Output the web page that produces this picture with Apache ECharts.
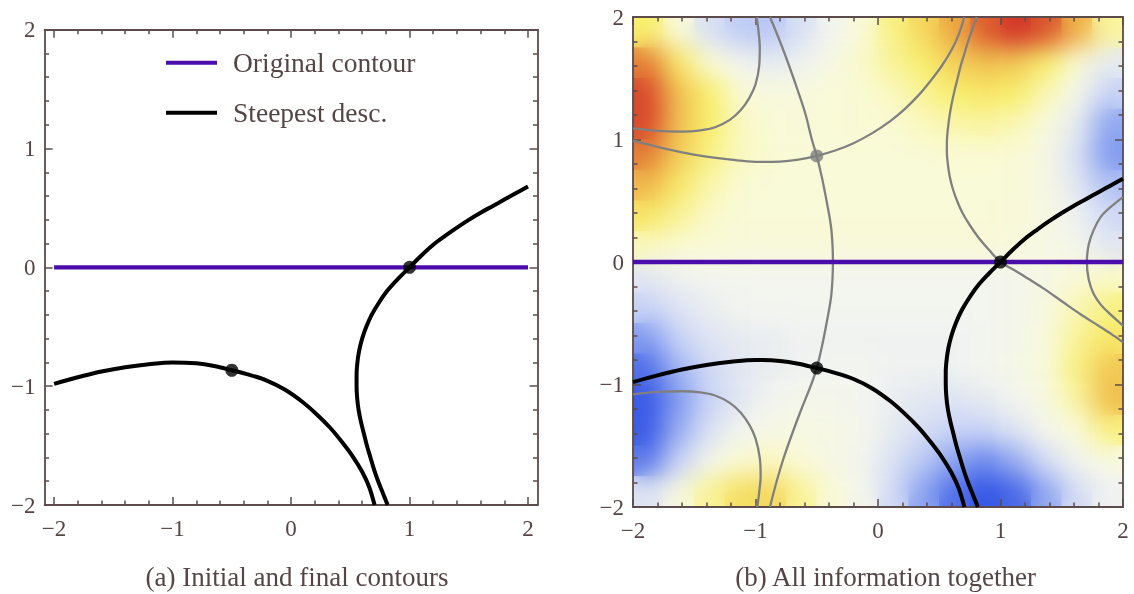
<!DOCTYPE html>
<html><head><meta charset="utf-8">
<script src="https://cdn.jsdelivr.net/npm/echarts@6/dist/echarts.min.js"></script>
<style>
html,body{margin:0;padding:0;background:#fff;}
#stage{position:relative;width:1134px;height:594px;overflow:hidden;background:#fff;}
#heatBase,#main{position:absolute;left:0;top:0;width:1134px;height:594px;}
#blurClip{position:absolute;left:633px;top:17px;width:490px;height:490px;overflow:hidden;}
#heatBlur{position:absolute;left:-633px;top:-17px;width:1134px;height:594px;filter:blur(12px);}
</style></head><body>
<div id="stage">
<div id="heatBase"></div>
<div id="blurClip"><div id="heatBlur"></div></div>
<div id="main"></div>
</div>
<script>
// ---------- data ----------
const majorTicks = [-2, -1, 0, 1, 2];
const minorTicks = [-1.8,-1.6,-1.4,-1.2,-0.8,-0.6,-0.4,-0.2,0.2,0.4,0.6,0.8,1.2,1.4,1.6,1.8];

const originalContour = [[-2, 0], [2, 0]];
const steepest1 = [[-2.0,-0.98],[-1.8,-0.925],[-1.6,-0.877],[-1.4,-0.84],[-1.2,-0.815],[-1.0,-0.80],[-0.8,-0.808],[-0.65,-0.83],[-0.5,-0.866],[-0.35,-0.905],[-0.2,-0.955],[-0.05,-1.03],[0.1,-1.135],[0.22,-1.24],[0.33,-1.35],[0.43,-1.47],[0.52,-1.59],[0.6,-1.72],[0.66,-1.85],[0.705,-2.0]];
const steepest2 = [[0.815,-2.0],[0.775,-1.9],[0.735,-1.8],[0.70,-1.7],[0.67,-1.6],[0.64,-1.5],[0.615,-1.4],[0.59,-1.3],[0.57,-1.2],[0.558,-1.1],[0.553,-1.0],[0.553,-0.9],[0.56,-0.8],[0.575,-0.7],[0.60,-0.6],[0.635,-0.5],[0.68,-0.4],[0.74,-0.3],[0.81,-0.2],[0.9,-0.1],[1.0,0.0],[1.1,0.1],[1.2,0.19],[1.3,0.265],[1.4,0.335],[1.5,0.40],[1.6,0.46],[1.7,0.515],[1.8,0.57],[1.9,0.625],[2.0,0.68]];
const saddlesUsed = [[-0.5,-0.866],[1,0]];
const saddleOther = [[-0.5,0.866]];

const grey1 = [[-0.882,2.0],[-0.80,1.8],[-0.725,1.6],[-0.655,1.4],[-0.59,1.2],[-0.54,1.0],[-0.5,0.866],[-0.46,0.7],[-0.42,0.5],[-0.385,0.3],[-0.372,0.15],[-0.368,0],[-0.372,-0.15],[-0.385,-0.3],[-0.42,-0.5],[-0.46,-0.7],[-0.5,-0.866],[-0.545,-1.0],[-0.625,-1.2],[-0.70,-1.4],[-0.77,-1.6],[-0.83,-1.8],[-0.882,-2.0]];
const grey2Top = [[-2.0,1.09],[-1.8,1.07],[-1.6,1.065],[-1.45,1.075],[-1.33,1.10],[-1.21,1.16],[-1.12,1.24],[-1.05,1.34],[-1.0,1.45],[-0.97,1.6],[-0.965,1.75],[-0.975,1.88],[-0.99,2.0]];
const grey2Bottom = [[-2.0,-1.08],[-1.8,-1.06],[-1.6,-1.055],[-1.45,-1.065],[-1.33,-1.09],[-1.21,-1.15],[-1.12,-1.23],[-1.05,-1.33],[-1.0,-1.44],[-0.965,-1.6],[-0.958,-1.75],[-0.97,-1.88],[-0.985,-2.0]];
const grey3 = [[-2.0,0.99],[-1.8,0.94],[-1.6,0.895],[-1.4,0.86],[-1.2,0.835],[-1.0,0.818],[-0.8,0.82],[-0.65,0.835],[-0.5,0.866],[-0.35,0.91],[-0.2,0.97],[-0.05,1.05],[0.1,1.15],[0.22,1.25],[0.33,1.36],[0.43,1.48],[0.52,1.6],[0.6,1.73],[0.66,1.86],[0.705,2.0]];
const grey4 = [[0.806,2.0],[0.77,1.9],[0.735,1.8],[0.705,1.7],[0.675,1.6],[0.65,1.5],[0.625,1.4],[0.603,1.3],[0.585,1.2],[0.572,1.1],[0.563,1.0],[0.562,0.9],[0.57,0.8],[0.585,0.7],[0.61,0.6],[0.645,0.5],[0.69,0.4],[0.75,0.3],[0.82,0.2],[0.905,0.1],[1.0,0],[1.1,-0.06],[1.2,-0.12],[1.35,-0.215],[1.5,-0.32],[1.65,-0.425],[1.8,-0.52],[1.9,-0.585],[2.0,-0.655]];
const grey5 = [[2.0,0.53],[1.9,0.45],[1.82,0.37],[1.76,0.26],[1.72,0.14],[1.705,0],[1.72,-0.14],[1.76,-0.26],[1.82,-0.35],[1.9,-0.43],[2.0,-0.52]];

// background field, cell centres (rows listed from top y=1.875 to bottom y=-1.875)
const heatX = [-1.875,-1.625,-1.375,-1.125,-0.875,-0.625,-0.375,-0.125,0.125,0.375,0.625,0.875,1.125,1.375,1.625,1.875];
const heatY = [-1.875,-1.625,-1.375,-1.125,-0.875,-0.625,-0.375,-0.125,0.125,0.375,0.625,0.875,1.125,1.375,1.625,1.875];
const heatRows = [
  [2.0, 0.8, -0.6, -1.1, -1.2, -0.6, 0.0, 0.9, 1.8, 2.3, 2.9, 3.6, 4.0, 3.7, 2.8, 1.5],
  [3.3, 2.1, 1.0, 0.0, -0.3, -0.1, 0.5, 1.1, 1.6, 2.0, 2.4, 2.6, 2.5, 2.0, 1.0, -0.3],
  [3.8, 2.6, 2.0, 1.0, 0.7, 0.7, 0.9, 1.0, 1.2, 1.6, 2.0, 2.1, 2.0, 1.3, 0.2, -1.0],
  [3.8, 2.6, 2.0, 1.2, 0.9, 0.8, 0.9, 1.0, 1.0, 1.2, 1.4, 1.5, 1.3, 0.7, -0.3, -1.7],
  [3.3, 2.4, 1.8, 1.2, 1.0, 0.9, 0.9, 0.9, 0.9, 0.9, 1.0, 1.0, 1.0, 0.4, -0.6, -1.9],
  [2.7, 2.1, 1.4, 1.0, 0.9, 0.9, 0.9, 0.9, 0.9, 0.9, 0.9, 0.9, 0.9, 0.4, -0.4, -1.3],
  [2.1, 1.6, 1.1, 0.9, 0.9, 0.9, 0.9, 0.9, 0.9, 0.9, 0.9, 0.9, 0.8, 0.5, -0.1, -0.8],
  [1.2, 1.0, 0.9, 0.8, 0.8, 0.8, 0.8, 0.8, 0.8, 0.8, 0.8, 0.8, 0.7, 0.5, 0.1, -0.4],
  [-0.4, -0.1, 0.0, 0.0, 0.0, 0.0, 0.0, 0.0, 0.0, 0.0, 0.0, 0.0, 0.1, 0.4, 0.8, 1.1],
  [-1.0, -0.5, -0.2, 0.0, 0.0, 0.0, 0.0, 0.0, 0.0, 0.0, 0.0, 0.0, 0.2, 0.6, 1.3, 1.8],
  [-1.9, -1.0, -0.5, -0.3, -0.2, -0.1, -0.1, -0.1, -0.1, -0.1, -0.1, 0.0, 0.2, 0.7, 1.6, 2.1],
  [-2.6, -1.5, -0.8, -0.4, -0.2, -0.1, 0.0, 0.0, -0.1, -0.1, -0.1, 0.0, 0.3, 0.8, 1.8, 2.5],
  [-2.9, -1.9, -1.0, -0.4, 0.0, 0.2, 0.1, 0.0, -0.2, -0.4, -0.5, -0.3, 0.0, 0.6, 1.5, 2.6],
  [-2.9, -1.6, -0.6, 0.0, 0.4, 0.5, 0.4, 0.1, -0.3, -0.7, -1.0, -1.0, -0.5, 0.1, 0.8, 1.8],
  [-2.4, -1.0, 0.2, 1.0, 1.2, 0.8, 0.4, 0.0, -0.6, -1.2, -1.8, -2.2, -1.6, -0.7, 0.0, 0.5],
  [-0.5, 0.6, 1.6, 2.2, 2.3, 1.6, 0.8, 0.1, -0.8, -1.8, -2.6, -3.0, -2.7, -1.7, -0.7, -0.1]
];
const captions = ['(a) Initial and final contours', '(b) All information together'];
const legendNames = ['Original contour', 'Steepest desc.'];

// ---------- styling ----------
const FONT = "'Liberation Serif', 'DejaVu Serif', serif";
const TEXT = '#554545';
const FRAME = '#5c4b4b';
const PURPLE = '#4b0cad';
const GREY = '#808080';
const HEAT_COLORS = ['#3556e5','#7b96ee','#c8d3f6','#f3f5ef','#fafad4','#f8ef6c','#eba03d','#d33629'];

// ---------- heat layers ----------
const heatData = [];
heatRows.forEach((row, r) => {
  row.forEach((v, c) => heatData.push([c, heatY.length - 1 - r, v]));
});
function heatOption() {
  return {
    animation: false,
    grid: { left: 633, top: 17, width: 490, height: 490 },
    xAxis: { type: 'category', data: heatX.map(String), show: false },
    yAxis: { type: 'category', data: heatY.map(String), show: false },
    visualMap: { show: false, min: -3, max: 4, dimension: 2, inRange: { color: HEAT_COLORS } },
    series: [{ type: 'heatmap', data: heatData, itemStyle: { borderWidth: 0 }, emphasis: { disabled: true } }]
  };
}
echarts.init(document.getElementById('heatBase')).setOption(heatOption());
echarts.init(document.getElementById('heatBlur')).setOption(heatOption());

// ---------- main chart ----------
function fmt(v) { return v < 0 ? '\u2212' + (-v) : String(v); }
function axisSet(dim, grid, min, max) {
  const posA = dim === 'x' ? 'bottom' : 'left';
  const posB = dim === 'x' ? 'top' : 'right';
  const base = { type: 'value', gridIndex: grid, min: min, max: max, splitLine: { show: false }, minorTick: { show: false } };
  const line = { show: true, onZero: false, lineStyle: { color: FRAME, width: 1.8 } };
  const noLine = { show: false, onZero: false };
  const majT = { show: true, inside: true, length: 8, customValues: majorTicks, lineStyle: { color: FRAME, width: 1.5 } };
  const minT = { show: true, inside: true, length: 4.5, customValues: minorTicks, lineStyle: { color: FRAME, width: 1.5 } };
  const lbl = { show: true, customValues: majorTicks, formatter: fmt, color: TEXT, fontFamily: FONT, fontSize: 23, margin: dim === 'x' ? 12 : 9 };
  return [
    Object.assign({}, base, { position: posA, axisLine: line, axisTick: majT, axisLabel: lbl }),
    Object.assign({}, base, { position: posA, axisLine: noLine, axisTick: minT, axisLabel: { show: false } }),
    Object.assign({}, base, { position: posB, axisLine: line, axisTick: majT, axisLabel: { show: false } }),
    Object.assign({}, base, { position: posB, axisLine: noLine, axisTick: minT, axisLabel: { show: false } })
  ];
}
const xAxes = axisSet('x', 0, -2.08, 2.08).concat(axisSet('x', 1, -2, 2));
const yAxes = axisSet('y', 0, -2, 2).concat(axisSet('y', 1, -2, 2));

function lineS(name, data, color, width, ax, z) {
  return { type: 'line', name: name, data: data, xAxisIndex: ax, yAxisIndex: ax, showSymbol: false, symbol: 'none',
    smooth: 0.35, color: color, itemStyle: { color: color }, lineStyle: { color: color, width: width }, z: z,
    silent: true, animation: false };
}
function dotS(name, data, color, ax) {
  return { type: 'scatter', name: name, data: data, xAxisIndex: ax, yAxisIndex: ax, symbolSize: 13,
    itemStyle: { color: color }, z: 10, silent: true };
}

const series = [
  // panel (a)
  lineS(legendNames[0], originalContour, PURPLE, 4.3, 0, 3),
  lineS(legendNames[1], steepest1, '#000', 4, 0, 4),
  lineS(legendNames[1], steepest2, '#000', 4, 0, 4),
  dotS('Saddles', saddlesUsed, '#000', 0),
  // panel (b)
  lineS('Level curves', grey1, GREY, 2.3, 4, 2),
  lineS('Level curves', grey2Top, GREY, 2.3, 4, 2),
  lineS('Level curves', grey2Bottom, GREY, 2.3, 4, 2),
  lineS('Level curves', grey3, GREY, 2.3, 4, 2),
  lineS('Level curves', grey4, GREY, 2.3, 4, 2),
  lineS('Level curves', grey5, GREY, 2.3, 4, 2),
  lineS('Original contour (b)', originalContour, PURPLE, 4.3, 4, 3),
  lineS('Steepest desc. (b)', steepest1, '#000', 4, 4, 4),
  lineS('Steepest desc. (b)', steepest2, '#000', 4, 4, 4),
  dotS('Saddles (b)', saddlesUsed, '#000', 4),
  dotS('Other saddle', saddleOther, GREY, 4)
];

const main = echarts.init(document.getElementById('main'), null, { renderer: 'svg' });
main.setOption({
  animation: false,
  grid: [
    { left: 44.6, top: 29.7, width: 492.9, height: 475.3 },
    { left: 633, top: 17, width: 490, height: 490 }
  ],
  xAxis: xAxes,
  yAxis: yAxes,
  title: [
    { text: captions[0], left: 297, top: 577, textAlign: 'center', textVerticalAlign: 'middle', padding: 0,
      textStyle: { fontFamily: FONT, fontSize: 27, fontWeight: 'normal', color: TEXT } },
    { text: captions[1], left: 885.6, top: 577, textAlign: 'center', textVerticalAlign: 'middle', padding: 0,
      textStyle: { fontFamily: FONT, fontSize: 27, fontWeight: 'normal', color: TEXT } }
  ],
  legend: {
    data: legendNames, orient: 'vertical', left: 166, top: 47.7, padding: 0,
    itemWidth: 51, itemHeight: 4, itemGap: 20, icon: 'rect', selectedMode: false,
    textStyle: { fontFamily: FONT, fontSize: 27.5, color: TEXT, lineHeight: 30, padding: [0, 0, 0, 11] }
  },
  series: series
});
</script>
</body></html>
